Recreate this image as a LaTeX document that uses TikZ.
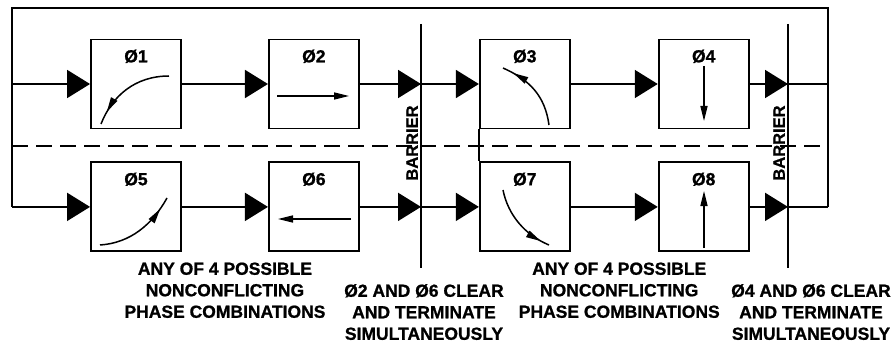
\documentclass[tikz,border=0pt]{standalone}
\usepackage{fontspec}
\setmainfont{Liberation Sans}[FakeBold=1]
\usetikzlibrary{arrows.meta,positioning,calc,decorations.markings}
\tikzset{
  ln/.style={line width=1.9pt},
  box/.style={draw,line width=1.9pt,minimum width=90pt,minimum height=89pt,inner sep=0pt},
  phl/.style={anchor=north,yshift=-11pt,inner sep=0pt,font=\bfseries\fontsize{17.5}{21}\selectfont},
  flow/.style={ln,-{Triangle[length=23pt,width=28pt]}},
  glyph/.style={line width=1.5pt,-{Triangle[length=15pt,width=7pt]}},
  curv/.style={line width=1.5pt,postaction={decorate},
    decoration={markings,mark=at position #1 with {\arrow{Triangle[length=15pt,width=7pt]}}}},
  note/.style={align=center,inner sep=0pt,anchor=north,font=\bfseries\fontsize{17.5}{21.5}\selectfont},
  barr/.style={rotate=90,anchor=south,inner sep=3pt,font=\bfseries\fontsize{16.5}{20}\selectfont},
}
\begin{document}
\begin{tikzpicture}[x=1pt,y=-1pt]
\useasboundingbox (0,0) rectangle (895,345);
\coordinate (tl) at (12,8);
\coordinate (tr) at (828,8);
\coordinate (dl) at (12,146);
\coordinate (dr) at (828,146);
\coordinate (b1t) at (421,24);
\coordinate (b1b) at (421,268);
\coordinate (b2t) at (788,24);
\coordinate (b2b) at (788,268);
\node[box,label={[phl]north:Ø1}] (p1) at (136,84) {};
\node[box,right=86pt of p1,label={[phl]north:Ø2}] (p2) {};
\node[box,right=119pt of p2,label={[phl]north:Ø3}] (p3) {};
\node[box,right=87pt of p3,label={[phl]north:Ø4}] (p4) {};
\node[box,below=32pt of p1,label={[phl]north:Ø5}] (p5) {};
\node[box,below=32pt of p2,label={[phl]north:Ø6}] (p6) {};
\node[box,below=32pt of p3,label={[phl]north:Ø7}] (p7) {};
\node[box,below=32pt of p4,label={[phl]north:Ø8}] (p8) {};
\draw[ln] (tl |- p5) -- (tl) -- (tr) -- (tr |- p5);
\draw[ln,dash pattern=on 16pt off 8pt] (dl) -- (dr);
\draw[ln] (b1t) -- (b1b);
\draw[ln] (b2t) -- (b2b);
\draw[ln] (p3.south west) -- (p7.north west);
\draw[flow] (tl |- p1) -- (p1);
\draw[flow] (tl |- p5) -- (p5);
\foreach \u/\v in {p1/p2,p3/p4,p5/p6,p7/p8} \draw[flow] (\u)--(\v);
\draw[flow] (p2) -- (b1t |- p2);
\draw[flow] (b1t |- p2) -- (p3);
\draw[flow] (p6) -- (b1t |- p6);
\draw[flow] (b1t |- p6) -- (p7);
\draw[flow] (p4) -- (b2t |- p4);
\draw[flow] (p8) -- (b2t |- p8);
\draw[ln] (b2t |- p4) -- (tr |- p4);
\draw[ln] (b2t |- p8) -- (tr |- p8);
\node[barr] (r1) at ($(b1t |- dl)+(0,-3)$) {BARRIER};
\node[barr] (r2) at ($(b2t |- dl)+(0,-3)$) {BARRIER};
\draw[curv=0.85] (169,76) .. controls (135,76) and (112,96) .. (101,124);
\draw[glyph] (277,96) -- (349,96);
\draw[curv=0.85] (549,125) .. controls (545,96) and (530,80) .. (503,68);
\draw[glyph] (704,66) -- (704,121);
\draw[curv=0.85] (100,245) .. controls (130,243) and (152,225) .. (167,198);
\draw[glyph] (351,219) -- (278,219);
\draw[curv=0.88] (503,190) .. controls (508,215) and (525,235) .. (549,245);
\draw[glyph] (704,248) -- (704,191);
\node[note] (c1) at ($(p5.south)!0.5!(p6.south)+(0,10)$) {ANY OF 4 POSSIBLE\\NONCONFLICTING\\PHASE COMBINATIONS};
\node[note] (c2) at ($(p7.south)!0.5!(p8.south)+(5,10)$) {ANY OF 4 POSSIBLE\\NONCONFLICTING\\PHASE COMBINATIONS};
\node[note] (s1) at ($(b1b)+(3,16)$) {Ø2 AND Ø6 CLEAR\\AND TERMINATE\\SIMULTANEOUSLY};
\node[note] (s2) at ($(b2b)+(23,16)$) {Ø4 AND Ø6 CLEAR\\AND TERMINATE\\SIMULTANEOUSLY};
\end{tikzpicture}
\end{document}
